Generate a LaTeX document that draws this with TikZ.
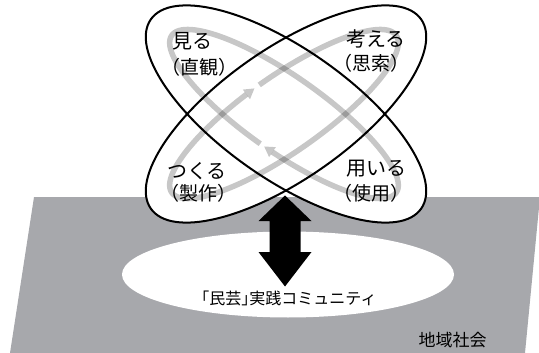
\documentclass[tikz,border=0pt]{standalone}
\usepackage{fontspec}
\newfontfamily\jp{Noto Sans CJK JP}
\usetikzlibrary{calc}
\definecolor{ground}{RGB}{167,168,172}
\tikzset{
  loopline/.style={draw=black, line width=2pt},
  cycleline/.style={draw=black, draw opacity=0.22, line width=5.5pt},
  cyclehead/.style={fill=black, fill opacity=0.22},
  biglabel/.style={font=\jp\fontsize{20}{24}\selectfont, inner sep=0pt},
  sublabel/.style={font=\jp\fontsize{19}{22}\selectfont, inner sep=0pt},
  commlabel/.style={font=\jp\fontsize{16}{19}\selectfont, inner sep=0pt},
  arealabel/.style={font=\jp\fontsize{17}{20}\selectfont, inner sep=0pt},
}
\begin{document}
\begin{tikzpicture}[x=1pt,y=-1pt,
  declare function={
    ax(\t)=284+137*cos(\t)*0.8192-38*sin(\t)*0.5736;
    ay(\t)=114+137*cos(\t)*0.5736+38*sin(\t)*0.8192;
    bx(\t)=284+137*cos(\t)*0.8192+38*sin(\t)*0.5736;
    by(\t)=114-137*cos(\t)*0.5736+38*sin(\t)*0.8192;
  }]
\useasboundingbox (0,0) rectangle (539,353);
% ground plane
\fill[ground] (34,197) -- (540,197) -- (525,353) -- (10,353) -- cycle;
% community ellipse
\coordinate (community) at (288,274.5);
\fill[white] (community) ellipse [x radius=166, y radius=43];
% loop ellipses: white fill
\coordinate (ctr) at (286,114);
\fill[white, rotate around={-35:(ctr)}] (ctr) ellipse [x radius=165, y radius=65];
\fill[white, rotate around={35:(ctr)}] (ctr) ellipse [x radius=165, y radius=65];
% gray cycle ellipses
\draw[cycleline] plot[domain=91:444.8, samples=180, smooth, variable=\t] ({ax(\t)},{ay(\t)});
\coordinate (aB) at ({ax(444.8)},{ay(444.8)});
\coordinate (aT) at ({ax(449)},{ay(449)});
\fill[cyclehead] (aT) -- ($(aB)!6pt!90:(aT)$) -- ($(aB)!6pt!-90:(aT)$) -- cycle;
\draw[cycleline] plot[domain=268.5:621.8, samples=180, smooth, variable=\t] ({bx(\t)},{by(\t)});
\coordinate (bB) at ({bx(621.8)},{by(621.8)});
\coordinate (bT) at ({bx(626)},{by(626)});
\fill[cyclehead] (bT) -- ($(bB)!6pt!90:(bT)$) -- ($(bB)!6pt!-90:(bT)$) -- cycle;
% loop ellipses: outlines
\draw[loopline, rotate around={-35:(ctr)}] (ctr) ellipse [x radius=165, y radius=65];
\draw[loopline, rotate around={35:(ctr)}] (ctr) ellipse [x radius=165, y radius=65];
% double arrow
\fill[black] (285,195.5) -- (311.5,221) -- (300.5,221) -- (300.5,252) -- (311.5,252)
  -- (285,286.5) -- (258.5,252) -- (269.5,252) -- (269.5,221) -- (258.5,221) -- cycle;
% labels
\node[biglabel] (miru) at (192,41) {見る};
\node[sublabel] (chokkan) at (199,67) {（直観）};
\node[biglabel] (kangaeru) at (376,38.5) {考える};
\node[sublabel] (shisaku) at (371.5,63) {（思索）};
\node[biglabel] (tsukuru) at (197,171) {つくる};
\node[sublabel] (seisaku) at (198.5,193) {（製作）};
\node[biglabel] (mochiiru) at (376,169) {用いる};
\node[sublabel] (shiyou) at (371.5,193) {（使用）};
\node[commlabel] (comm) at (285,298.5) {「民芸」\kern-0.5em 実践コミュニティ};
\node[arealabel] (area) at (452.5,340) {地域社会};
\end{tikzpicture}
\end{document}
